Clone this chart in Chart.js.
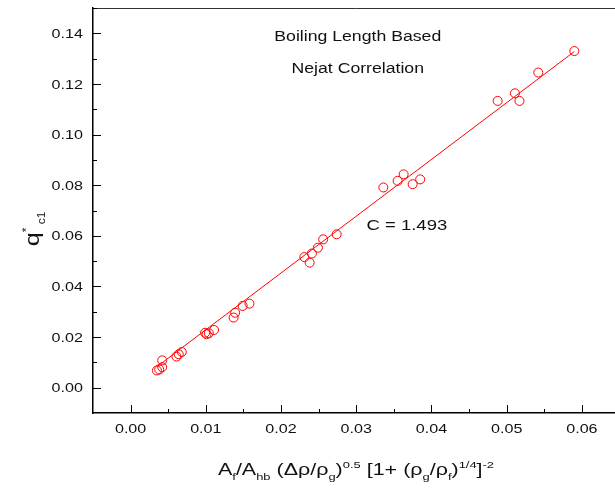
<!DOCTYPE html>
<html>
<head>
<meta charset="utf-8">
<script src="https://cdn.jsdelivr.net/npm/chart.js@4.4.1/dist/chart.umd.min.js"></script>
<style>
  html, body { margin: 0; padding: 0; background: #fff; overflow: hidden; }
  #wrap { position: relative; width: 625px; height: 489px; }
</style>
</head>
<body>
<div id="wrap"><canvas id="c" width="625" height="489"></canvas></div>
<script>
// Measured critical heat flux vs. the geometry/density group
const xVals = [0.0035, 0.0038, 0.0042, 0.0042, 0.0061, 0.0064, 0.0068,
               0.0099, 0.0101, 0.0104, 0.0111, 0.0137, 0.0139, 0.0149, 0.0158,
               0.0231, 0.0238, 0.0241, 0.0249, 0.0256, 0.0274,
               0.0336, 0.0355, 0.0363, 0.0375, 0.0385,
               0.0488, 0.0511, 0.0517, 0.0542, 0.0590];
const yVals = [0.0068, 0.0072, 0.0081, 0.0108, 0.0123, 0.0132, 0.0141,
               0.0217, 0.0211, 0.0215, 0.0228, 0.0277, 0.0296, 0.0323, 0.0332,
               0.0516, 0.0494, 0.0530, 0.0553, 0.0586, 0.0606,
               0.0791, 0.0817, 0.0843, 0.0804, 0.0823,
               0.1133, 0.1163, 0.1133, 0.1245, 0.1330];

// Correlation line (C = 1.493)
const fitX = [0.0035, 0.0590];
const fitY = [0.0083, 0.1328];

// Axis ranges and labelled ticks
const xRange = [-0.005, 0.065];
const yRange = [-0.01, 0.15];
const xTicks = [0.00, 0.01, 0.02, 0.03, 0.04, 0.05, 0.06];
const yTicks = [0.00, 0.02, 0.04, 0.06, 0.08, 0.10, 0.12, 0.14];

const titleLines = ['Boiling Length Based', 'Nejat Correlation'];
const constantLabel = 'C = 1.493';

const FONT = '"Liberation Sans", Arial, Helvetica, sans-serif';
const RED = '#ff0000';

// text is drawn slightly widened, as in the original figure export
function stretchedText(ctx, text, x, y, size, sx, align) {
  ctx.save();
  ctx.font = size + 'px ' + FONT;
  ctx.translate(x, y);
  ctx.scale(sx, 1);
  ctx.textAlign = align || 'left';
  ctx.textBaseline = 'alphabetic';
  ctx.fillText(text, 0, 0);
  ctx.restore();
}

// rich text: segments of [text, kind] with kind 'n', 'sub' or 'sup'
function richText(ctx, segs, cx, y, size, small, sx) {
  ctx.save();
  let total = 0;
  const widths = segs.map(([t, k]) => {
    ctx.font = (k === 'n' ? size : small) + 'px ' + FONT;
    const w = ctx.measureText(t).width * sx;
    total += w;
    return w;
  });
  let x = cx - total / 2;
  segs.forEach(([t, k], i) => {
    const fs = k === 'n' ? size : small;
    const dy = k === 'sub' ? size * 0.3 : (k === 'sup' ? -size * 0.42 : 0);
    ctx.save();
    ctx.font = fs + 'px ' + FONT;
    ctx.translate(x, y + dy);
    ctx.scale(sx, 1);
    ctx.textAlign = 'left';
    ctx.textBaseline = 'alphabetic';
    ctx.fillText(t, 0, 0);
    ctx.restore();
    x += widths[i];
  });
  ctx.restore();
}

const framePlugin = {
  id: 'frame',
  afterDraw(chart) {
    const ctx = chart.ctx;
    const xs = chart.scales.x, ys = chart.scales.y;
    const a = chart.chartArea;
    ctx.save();
    ctx.fillStyle = '#000';

    // top frame line
    ctx.lineWidth = 1;
    ctx.strokeStyle = '#333';
    ctx.beginPath();
    ctx.moveTo(a.left, a.top + 0.5);
    ctx.lineTo(a.right, a.top + 0.5);
    ctx.stroke();

    // inward ticks, major and minor
    ctx.strokeStyle = '#000';
    ctx.lineWidth = 1;
    const xStep = xTicks[1] - xTicks[0];
    const yStep = yTicks[1] - yTicks[0];
    xTicks.forEach(v => {
      const px = Math.round(xs.getPixelForValue(v)) + 0.5;
      ctx.beginPath(); ctx.moveTo(px, a.bottom); ctx.lineTo(px, a.bottom - 8); ctx.stroke();
      const pm = Math.round(xs.getPixelForValue(v + xStep / 2)) + 0.5;
      if (pm < a.right) { ctx.beginPath(); ctx.moveTo(pm, a.bottom); ctx.lineTo(pm, a.bottom - 4); ctx.stroke(); }
    });
    yTicks.forEach(v => {
      const py = Math.round(ys.getPixelForValue(v)) + 0.5;
      ctx.beginPath(); ctx.moveTo(a.left, py); ctx.lineTo(a.left + 8, py); ctx.stroke();
      const pm = Math.round(ys.getPixelForValue(v + yStep / 2)) + 0.5;
      if (pm > a.top) { ctx.beginPath(); ctx.moveTo(a.left, pm); ctx.lineTo(a.left + 4, pm); ctx.stroke(); }
    });

    // tick labels
    ctx.fillStyle = '#111';
    xTicks.forEach(v => {
      stretchedText(ctx, v.toFixed(2), xs.getPixelForValue(v), a.bottom + 20, 12.8, 1.26, 'center');
    });
    yTicks.forEach(v => {
      stretchedText(ctx, v.toFixed(2), a.left - 10, ys.getPixelForValue(v) + 4.6, 12.8, 1.26, 'right');
    });

    // x axis title
    richText(ctx, [
      ['A', 'n'], ['f', 'sub'], ['/A', 'n'], ['hb', 'sub'], [' (\u0394\u03c1/\u03c1', 'n'], ['g', 'sub'],
      [')', 'n'], ['0.5', 'sup'], [' [1+ (\u03c1', 'n'], ['g', 'sub'], ['/\u03c1', 'n'], ['f', 'sub'],
      [')', 'n'], ['1/4', 'sup'], [']', 'n'], ['-2', 'sup']
    ], 356, 475, 15.8, 9.5, 1.36);

    // y axis title (rotated)
    ctx.save();
    ctx.translate(39, 229);
    ctx.rotate(-Math.PI / 2);
    richText(ctx, [['q', 'n'], ['*', 'sup'], [' c1', 'sub']], 0, 0, 21, 10, 1.2);
    ctx.restore();

    // annotations placed in data coordinates
    stretchedText(ctx, titleLines[0], xs.getPixelForValue(0.0302), ys.getPixelForValue(0.1369), 13.8, 1.28, 'center');
    stretchedText(ctx, titleLines[1], xs.getPixelForValue(0.0302), ys.getPixelForValue(0.1245), 13.8, 1.28, 'center');
    stretchedText(ctx, constantLabel, xs.getPixelForValue(0.03136), ys.getPixelForValue(0.0622), 14.8, 1.25, 'left');

    ctx.restore();
  }
};

const points = xVals.map((x, i) => ({ x, y: yVals[i] }));
const fitLine = fitX.map((x, i) => ({ x, y: fitY[i] }));

new Chart(document.getElementById('c'), {
  type: 'scatter',
  data: {
    datasets: [
      {
        data: fitLine,
        showLine: true,
        borderColor: RED,
        borderWidth: 1,
        pointRadius: 0,
        pointHoverRadius: 0,
        fill: false
      },
      {
        data: points,
        pointStyle: 'circle',
        pointRadius: 4.5,
        pointBorderWidth: 1,
        pointBorderColor: RED,
        pointBackgroundColor: 'rgba(0,0,0,0)',
        showLine: false
      }
    ]
  },
  options: {
    responsive: false,
    devicePixelRatio: 1,
    animation: false,
    layout: { padding: { left: 93, top: 8, right: 2, bottom: 76 } },
    plugins: { legend: { display: false }, tooltip: { enabled: false } },
    scales: {
      x: {
        type: 'linear', min: xRange[0], max: xRange[1],
        ticks: { display: false },
        grid: { display: false, drawTicks: false },
        border: { display: true, color: '#000', width: 1.5 }
      },
      y: {
        type: 'linear', min: yRange[0], max: yRange[1],
        ticks: { display: false },
        grid: { display: false, drawTicks: false },
        border: { display: true, color: '#000', width: 1.5 }
      }
    }
  },
  plugins: [framePlugin]
});
</script>
</body>
</html>
